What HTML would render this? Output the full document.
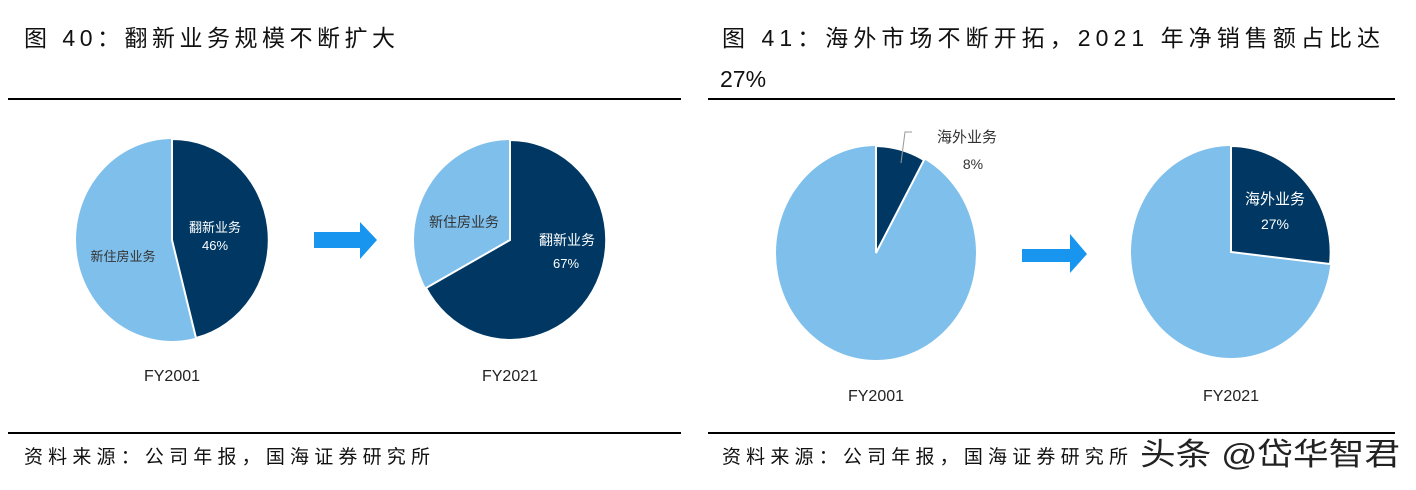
<!DOCTYPE html>
<html><head><meta charset="utf-8"><style>
body{margin:0;background:#fff;width:1416px;height:485px;overflow:hidden}
svg text{font-family:"Liberation Sans","Noto Sans CJK SC",sans-serif}
</style></head><body>
<svg width="1416" height="485" viewBox="0 0 1416 485" xmlns="http://www.w3.org/2000/svg">
<text x="24" y="46" font-size="23" fill="#111" textLength="371" lengthAdjust="spacing">图 40：翻新业务规模不断扩大</text>
<text x="722" y="46" font-size="23" fill="#111" textLength="658" lengthAdjust="spacing">图 41：海外市场不断开拓，2021 年净销售额占比达</text>
<text x="720" y="87" font-size="23" fill="#111">27%</text>
<rect x="8" y="98" width="673" height="2" fill="#000"/>
<rect x="708" y="98" width="687" height="2" fill="#000"/>
<rect x="8" y="432" width="673" height="2" fill="#000"/>
<rect x="708" y="432" width="687" height="2" fill="#000"/>
<text x="24" y="463" font-size="19" fill="#111" textLength="406" lengthAdjust="spacing">资料来源：公司年报，国海证券研究所</text>
<text x="722" y="463" font-size="19" fill="#111" textLength="406" lengthAdjust="spacing">资料来源：公司年报，国海证券研究所</text>
<text x="1140" y="465" font-size="31" fill="#222" textLength="260" lengthAdjust="spacingAndGlyphs">头条 @岱华智君</text>

<!-- pie1 -->
<ellipse cx="172" cy="240" rx="96" ry="101" fill="#7fbfeb"/>
<path d="M172,240 L172,139 A96,101 0 0 1 196,338 Z" fill="#003863" stroke="#fff" stroke-width="2"/>
<text x="215" y="232" font-size="13" fill="#fff" text-anchor="middle">翻新业务</text>
<text x="215" y="250" font-size="13" fill="#fff" text-anchor="middle">46%</text>
<text x="123" y="261" font-size="13" fill="#333" text-anchor="middle">新住房业务</text>
<text x="172" y="381" font-size="16" fill="#222" text-anchor="middle">FY2001</text>
<polygon points="314,232 360,232 360,222 377,240 360,259 360,248 314,248" fill="#1896ef"/>

<!-- pie2 -->
<ellipse cx="510" cy="240" rx="96" ry="100" fill="#7fbfeb"/>
<path d="M510,240 L510,140 A96,100 0 1 1 426,288 Z" fill="#003863" stroke="#fff" stroke-width="2"/>
<text x="567" y="245" font-size="14" fill="#fff" text-anchor="middle">翻新业务</text>
<text x="566" y="268" font-size="13" fill="#fff" text-anchor="middle">67%</text>
<text x="464" y="227" font-size="14" fill="#333" text-anchor="middle">新住房业务</text>
<text x="510" y="381" font-size="16" fill="#222" text-anchor="middle">FY2021</text>

<!-- pie3 -->
<ellipse cx="876" cy="253" rx="100" ry="107" fill="#7fbfeb"/>
<path d="M876,253 L876,146 A100,107 0 0 1 924,160 Z" fill="#003863" stroke="#fff" stroke-width="2"/>
<polyline points="901,163 905,132 912,132" fill="none" stroke="#999" stroke-width="1"/>
<text x="967" y="142" font-size="15" fill="#333" text-anchor="middle">海外业务</text>
<text x="973" y="169" font-size="14" fill="#333" text-anchor="middle">8%</text>
<text x="876" y="401" font-size="16" fill="#222" text-anchor="middle">FY2001</text>
<polygon points="1022,249 1070,249 1070,234 1087,254 1070,273 1070,262 1022,262" fill="#1896ef"/>

<!-- pie4 -->
<ellipse cx="1231" cy="252" rx="100" ry="106" fill="#7fbfeb"/>
<path d="M1231,252 L1231,146 A100,106 0 0 1 1330,264 Z" fill="#003863" stroke="#fff" stroke-width="2"/>
<text x="1275" y="204" font-size="15" fill="#fff" text-anchor="middle">海外业务</text>
<text x="1275" y="229" font-size="14" fill="#fff" text-anchor="middle">27%</text>
<text x="1231" y="401" font-size="16" fill="#222" text-anchor="middle">FY2021</text>
</svg>
</body></html>
